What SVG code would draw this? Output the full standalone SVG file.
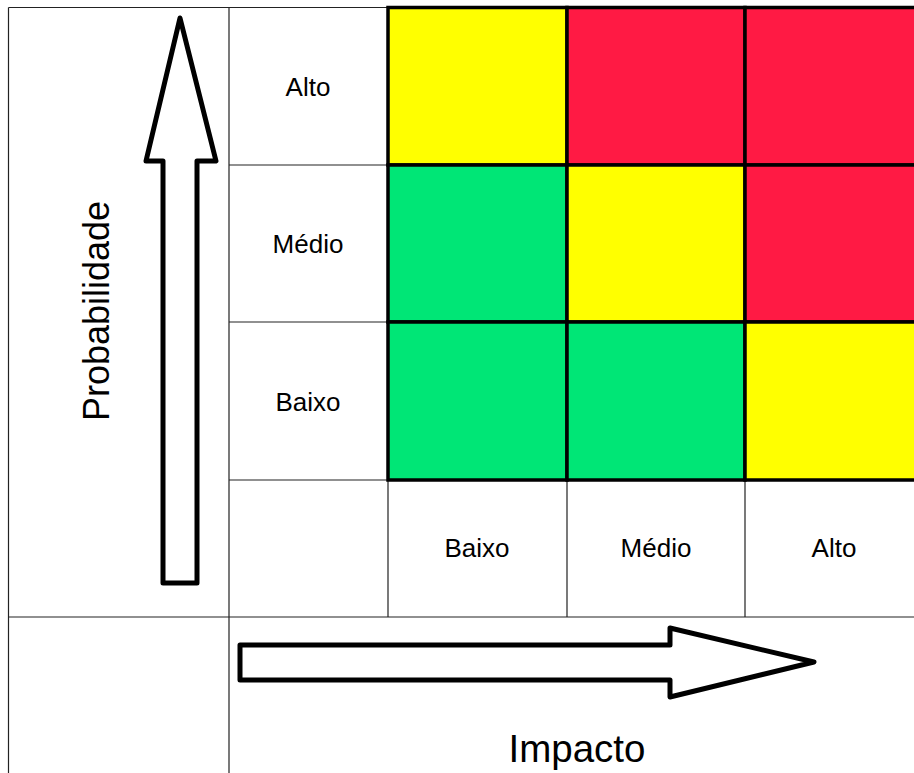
<svg xmlns="http://www.w3.org/2000/svg" width="914" height="773" viewBox="0 0 914 773">
<style>
.thin{stroke:#222;stroke-width:1.2;fill:none}
.cell{stroke:#000;stroke-width:3.5}
.y{fill:#FFFF00}.r{fill:#FF1A44}.g{fill:#00E676}
.arrow{fill:#fff;stroke:#000;stroke-width:5;stroke-linejoin:round}
.lbl{font-family:"Liberation Sans",Arial,sans-serif;font-size:26px;fill:#000;text-anchor:middle}
.axis{font-family:"Liberation Sans",Arial,sans-serif;fill:#000;text-anchor:middle}
</style>
<rect width="914" height="773" fill="#fff"/>
<g id="grid-lines">
<path class="thin" d="M8.5,7.5H388 M8.5,7.5V773 M229,7.5V773 M229,165H388 M229,322H388 M229,480H388 M8.5,617H914 M388,480V617 M567,480V617 M745,480V617"/>
</g>
<g id="matrix">
<rect class="cell y" x="388" y="7.5" width="179" height="157.5"/>
<rect class="cell r" x="567" y="7.5" width="178" height="157.5"/>
<rect class="cell r" x="745" y="7.5" width="180" height="157.5"/>
<rect class="cell g" x="388" y="165" width="179" height="157"/>
<rect class="cell y" x="567" y="165" width="178" height="157"/>
<rect class="cell r" x="745" y="165" width="180" height="157"/>
<rect class="cell g" x="388" y="322" width="179" height="158"/>
<rect class="cell g" x="567" y="322" width="178" height="158"/>
<rect class="cell y" x="745" y="322" width="180" height="158"/>
</g>
<g id="row-labels">
<text class="lbl" x="308" y="96">Alto</text>
<text class="lbl" x="308" y="253">Médio</text>
<text class="lbl" x="308" y="411">Baixo</text>
</g>
<g id="col-labels">
<text class="lbl" x="477" y="557">Baixo</text>
<text class="lbl" x="656" y="557">Médio</text>
<text class="lbl" x="834" y="557">Alto</text>
</g>
<g id="prob-arrow">
<polygon class="arrow" points="180,18 216,161 197,161 197,583 163,583 163,161 146,161"/>
</g>
<g id="impact-arrow">
<polygon class="arrow" points="240,645 670,645 670,628 814,662 670,697 670,680 240,680"/>
</g>
<g id="axis-labels">
<text class="axis" font-size="36" transform="translate(109,311) rotate(-90)">Probabilidade</text>
<text class="axis" font-size="38.5" x="577" y="762">Impacto</text>
</g>
</svg>
